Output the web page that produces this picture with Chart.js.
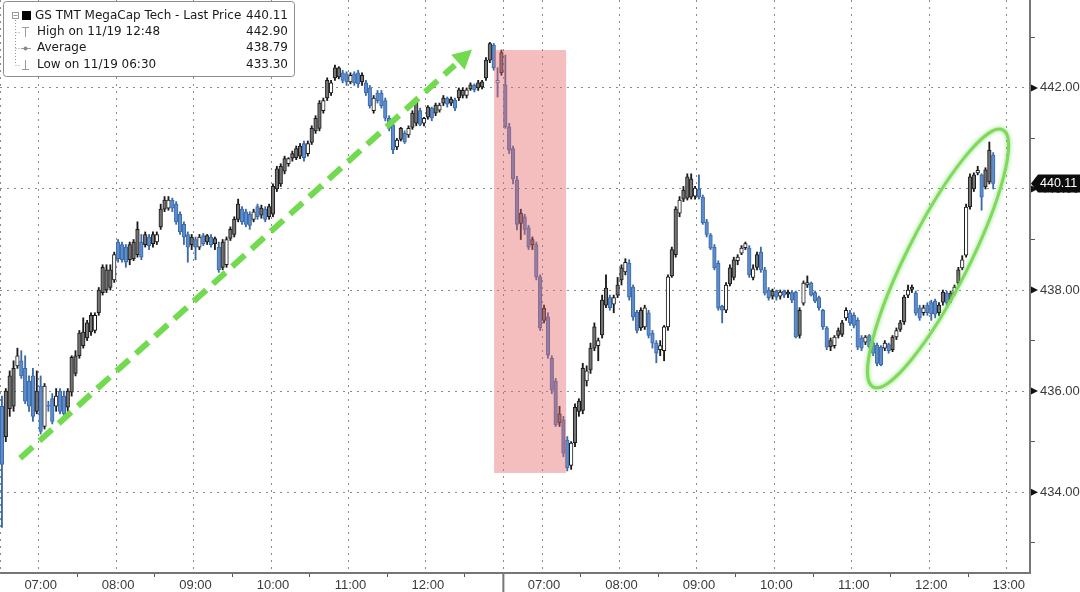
<!DOCTYPE html>
<html>
<head>
<meta charset="utf-8">
<title>GS TMT MegaCap Tech</title>
<script src="https://cdn.jsdelivr.net/npm/chart.js@4.4.1/dist/chart.umd.min.js"></script>
<style>
  html, body { margin: 0; padding: 0; background: #fff; }
  #wrap { position: relative; width: 1080px; height: 592px; }
</style>
</head>
<body>
<div id="wrap"><canvas id="chart"></canvas></div>
<script>
// ---- data: two sessions of 3-minute bars ----
const sessionDates = ["11/19", "11/20"];
const sessionSlots = [130, 136];          // 06:30 -> 12:57 and 06:30 -> 13:15
const barMinutes = 3;
const hourLabels = ["07:00", "08:00", "09:00", "10:00", "11:00", "12:00", "13:00"];
const labelledPrices = [434, 436, 438, 440, 442];

const openPx = [
  435.70, 436.00, 436.30, 436.45, 436.50, 436.60, 436.45, 436.20, 436.30, 436.00,
  436.10, 435.30, 435.72, 435.85, 435.70, 436.00, 435.90, 436.00, 436.67, 436.70,
  437.15, 437.17, 437.35, 437.50, 437.20, 438.00, 438.45, 438.40, 438.40, 438.20,
  438.95, 438.90, 438.85, 438.90, 438.95, 439.20, 438.95, 439.10, 439.05, 439.10,
  438.95, 439.60, 439.78, 439.62, 439.78, 439.70, 439.50, 439.30, 439.10, 439.05,
  439.00, 438.85, 439.08, 439.08, 439.05, 439.02, 438.85, 438.95, 438.50, 439.20,
  439.40, 439.70, 439.60, 439.55, 439.50, 439.40, 439.65, 439.62, 439.60, 439.65,
  440.05, 440.40, 440.45, 440.60, 440.50, 440.70, 440.80, 440.85, 440.90, 440.70,
  441.20, 441.40, 441.70, 441.55, 442.15, 441.90, 442.40, 442.40, 442.30, 442.28,
  442.12, 442.28, 442.30, 442.25, 442.10, 442.00, 441.55, 441.90, 441.90, 441.75,
  441.40, 441.27, 440.83, 441.20, 441.10, 441.07, 441.50, 441.72, 441.55, 441.30,
  441.62, 441.60, 441.66, 441.56, 441.80, 441.80, 441.78, 441.76, 441.96, 441.95,
  441.85, 442.06, 442.05, 442.10, 442.12, 442.55, 442.88, 442.85, 442.10, 442.70,
  442.06, 441.23, 440.80, 440.18, 439.52, 439.45, 439.23, 439.00, 438.90, 438.26,
  437.64, 437.47, 436.65, 436.20, 435.55, 435.43, 435.03, 434.53, 435.68, 435.80,
  436.45, 436.20, 436.85, 437.27, 436.90, 437.80, 438.04, 437.85, 437.72, 438.10,
  438.44, 438.36, 438.53, 438.06, 437.56, 437.60, 437.27, 437.55, 437.15, 436.95,
  436.82, 436.80, 437.27, 438.80, 439.60, 439.52, 439.98, 440.24, 440.20, 439.86,
  440.00, 439.84, 439.35, 439.09, 438.85, 438.53, 437.68, 437.60, 438.44, 438.60,
  438.58, 438.73, 438.84, 438.83, 438.25, 438.70, 438.75, 438.40, 438.00, 437.98,
  437.98, 437.88, 437.98, 437.96, 437.95, 437.96, 437.60, 437.74, 438.10, 438.14,
  437.95, 437.85, 437.60, 437.25, 437.00, 436.90, 437.20, 437.35, 437.45, 437.55,
  437.50, 437.40, 437.05, 436.97, 437.10, 436.95, 436.91, 436.87, 436.85, 436.92,
  437.07, 437.07, 437.35, 437.86, 437.90, 438.06, 437.94, 437.65, 437.55, 437.70,
  437.75, 437.78, 437.70, 437.96, 437.94, 437.94, 437.94, 438.40, 438.44, 438.69,
  440.24, 440.28, 440.32, 440.28, 440.38, 440.77, 440.67
];
const highPx = [
  435.90, 436.05, 436.40, 436.60, 436.85, 436.80, 436.70, 436.30, 436.45, 436.40,
  436.30, 436.15, 435.80, 435.95, 436.05, 436.05, 436.00, 436.05, 436.70, 436.80,
  437.20, 437.45, 437.40, 437.55, 437.55, 438.05, 438.50, 438.50, 438.50, 438.75,
  439.00, 438.95, 438.90, 438.95, 439.00, 439.35, 439.10, 439.15, 439.10, 439.15,
  439.15, 439.70, 439.85, 439.85, 439.82, 439.75, 439.55, 439.35, 439.15, 439.10,
  439.05, 439.10, 439.12, 439.10, 439.10, 439.05, 438.95, 439.00, 439.05, 439.25,
  439.45, 439.80, 439.65, 439.60, 439.55, 439.60, 439.70, 439.68, 439.65, 439.70,
  440.10, 440.45, 440.50, 440.65, 440.62, 440.75, 440.85, 440.90, 440.95, 440.95,
  441.25, 441.45, 441.75, 441.80, 442.20, 442.15, 442.45, 442.42, 442.35, 442.32,
  442.30, 442.32, 442.35, 442.30, 442.15, 442.05, 441.85, 441.95, 441.95, 441.80,
  441.45, 441.30, 441.00, 441.22, 441.15, 441.25, 441.55, 441.78, 441.60, 441.42,
  441.65, 441.62, 441.70, 441.70, 441.85, 441.82, 441.82, 441.80, 442.00, 442.00,
  442.00, 442.10, 442.08, 442.15, 442.15, 442.60, 442.90, 442.88, 442.40, 442.75,
  442.65, 441.30, 440.85, 440.25, 439.60, 439.50, 439.28, 439.05, 438.95, 438.30,
  437.70, 437.55, 436.70, 436.25, 435.70, 435.50, 435.10, 435.00, 435.75, 435.85,
  436.55, 436.50, 436.95, 437.35, 437.05, 437.90, 438.30, 437.90, 437.90, 438.25,
  438.50, 438.62, 438.60, 438.10, 437.60, 437.65, 437.70, 437.60, 437.20, 437.00,
  437.00, 437.30, 438.30, 438.85, 439.65, 439.85, 440.05, 440.30, 440.30, 440.05,
  440.28, 439.88, 439.40, 439.12, 438.90, 438.58, 437.70, 438.15, 438.50, 438.65,
  438.70, 438.88, 438.95, 438.88, 438.50, 438.75, 438.85, 438.45, 438.05, 438.02,
  438.00, 438.00, 438.00, 438.00, 437.98, 437.98, 437.65, 438.18, 438.28, 438.16,
  437.98, 437.88, 437.62, 437.28, 437.05, 437.10, 437.25, 437.40, 437.65, 437.60,
  437.55, 437.45, 437.10, 437.10, 437.12, 437.00, 436.95, 436.90, 437.00, 436.95,
  437.10, 437.25, 437.40, 437.90, 438.10, 438.10, 437.98, 437.70, 437.70, 437.75,
  437.80, 437.82, 437.75, 438.00, 437.98, 437.98, 438.10, 438.45, 438.68, 439.70,
  440.30, 440.32, 440.45, 440.30, 440.42, 440.93, 440.72
];
const lowPx = [
  433.30, 435.00, 435.50, 435.60, 436.45, 436.25, 435.75, 435.60, 435.40, 435.55,
  435.15, 435.25, 435.60, 435.35, 435.60, 435.55, 435.50, 435.60, 435.90, 436.30,
  436.65, 436.85, 437.00, 437.10, 437.15, 437.50, 437.90, 437.95, 438.00, 438.15,
  438.55, 438.55, 438.45, 438.50, 438.58, 438.65, 438.60, 438.85, 438.80, 438.85,
  438.90, 439.20, 439.55, 439.58, 439.55, 439.30, 439.10, 438.90, 438.55, 438.80,
  438.60, 438.80, 438.88, 438.90, 438.85, 438.80, 438.35, 438.40, 438.45, 438.98,
  439.05, 439.35, 439.30, 439.25, 439.20, 439.35, 439.40, 439.42, 439.35, 439.40,
  439.45, 439.95, 440.05, 440.30, 440.45, 440.55, 440.58, 440.60, 440.55, 440.65,
  440.88, 441.10, 441.15, 441.50, 441.75, 441.85, 442.15, 442.18, 442.10, 442.05,
  442.08, 442.05, 442.02, 442.05, 441.85, 441.60, 441.50, 441.70, 441.60, 441.35,
  441.15, 440.70, 440.78, 440.95, 440.90, 441.02, 441.18, 441.25, 441.25, 441.25,
  441.38, 441.35, 441.45, 441.52, 441.65, 441.62, 441.65, 441.55, 441.75, 441.80,
  441.80, 441.95, 441.92, 441.95, 441.98, 442.15, 442.50, 442.35, 441.82, 442.25,
  441.20, 440.70, 440.10, 439.19, 439.00, 439.10, 438.80, 438.80, 438.20, 437.20,
  437.35, 436.65, 435.95, 435.30, 435.30, 434.70, 434.42, 434.45, 434.90, 435.50,
  435.55, 436.10, 436.35, 436.80, 436.60, 437.05, 437.65, 437.60, 437.55, 437.85,
  438.10, 438.30, 437.80, 437.40, 437.15, 437.20, 437.22, 437.05, 436.85, 436.56,
  436.70, 436.60, 437.20, 438.25, 438.65, 439.45, 439.75, 439.78, 439.80, 439.80,
  439.80, 439.30, 439.05, 438.80, 438.40, 437.60, 437.35, 437.55, 438.08, 438.20,
  438.50, 438.70, 438.80, 438.25, 438.20, 438.40, 438.35, 437.90, 437.80, 437.82,
  437.80, 437.82, 437.85, 437.85, 437.75, 437.05, 437.05, 437.70, 438.05, 437.88,
  437.75, 437.60, 437.22, 436.82, 436.80, 436.85, 437.05, 437.08, 437.40, 437.30,
  437.25, 436.82, 436.80, 436.92, 436.85, 436.70, 436.50, 436.50, 436.80, 436.75,
  436.78, 437.02, 437.18, 437.32, 437.85, 437.95, 437.50, 437.40, 437.50, 437.50,
  437.40, 437.45, 437.50, 437.70, 437.70, 437.75, 437.90, 438.10, 438.40, 438.65,
  439.60, 439.95, 440.28, 439.58, 440.00, 440.10, 440.00
];
const closePx = [
  434.55, 435.10, 435.65, 435.70, 436.70, 436.30, 435.80, 435.70, 435.50, 435.60,
  435.20, 436.10, 435.70, 435.40, 435.90, 435.60, 435.55, 435.68, 435.98, 436.35,
  436.70, 436.90, 437.05, 437.17, 437.50, 437.55, 437.95, 438.00, 438.05, 438.70,
  438.62, 438.60, 438.55, 438.60, 438.62, 438.70, 438.65, 438.90, 438.88, 438.92,
  439.10, 439.25, 439.60, 439.78, 439.62, 439.35, 439.15, 439.05, 438.85, 438.90,
  438.85, 439.05, 438.92, 438.95, 438.90, 438.92, 438.40, 438.45, 439.00, 439.02,
  439.10, 439.40, 439.35, 439.30, 439.28, 439.55, 439.45, 439.48, 439.40, 439.45,
  439.50, 440.00, 440.10, 440.35, 440.60, 440.61, 440.62, 440.65, 440.62, 440.90,
  440.92, 441.15, 441.20, 441.75, 441.80, 442.10, 442.20, 442.22, 442.15, 442.12,
  442.25, 442.10, 442.08, 442.12, 441.90, 441.65, 441.80, 441.75, 441.65, 441.40,
  441.20, 440.78, 440.97, 440.98, 440.93, 441.20, 441.22, 441.30, 441.28, 441.40,
  441.42, 441.40, 441.50, 441.66, 441.70, 441.68, 441.70, 441.60, 441.80, 441.85,
  441.96, 441.98, 441.96, 442.00, 442.02, 442.20, 442.55, 442.40, 442.15, 442.30,
  441.23, 440.77, 440.20, 439.30, 439.32, 439.20, 438.85, 438.90, 438.26, 437.25,
  437.40, 436.71, 436.02, 435.33, 435.37, 434.77, 434.48, 434.97, 434.98, 435.60,
  435.62, 436.40, 436.42, 436.85, 437.00, 437.11, 437.70, 437.65, 437.85, 437.90,
  438.20, 438.55, 437.86, 437.47, 437.20, 437.25, 437.65, 437.10, 436.95, 436.75,
  436.90, 437.27, 438.26, 438.28, 438.70, 439.78, 439.80, 439.82, 439.84, 440.02,
  439.84, 439.33, 439.10, 438.83, 438.44, 437.64, 437.60, 438.10, 438.12, 438.25,
  438.65, 438.83, 438.92, 438.30, 438.42, 438.45, 438.40, 437.94, 437.85, 437.88,
  437.86, 437.96, 437.90, 437.92, 437.80, 437.07, 437.10, 438.14, 438.15, 437.90,
  437.78, 437.65, 437.27, 436.87, 436.88, 437.07, 437.10, 437.12, 437.60, 437.35,
  437.30, 436.87, 436.85, 437.07, 436.88, 436.75, 436.55, 436.52, 436.95, 436.80,
  436.82, 437.20, 437.22, 437.37, 438.00, 438.01, 437.54, 437.45, 437.65, 437.55,
  437.53, 437.52, 437.55, 437.76, 437.74, 437.80, 438.06, 438.14, 438.60, 439.64,
  439.65, 440.00, 440.37, 439.84, 440.04, 440.14, 440.11
];

const legendLabels = ["GS TMT MegaCap Tech - Last Price", "High on 11/19 12:48", "Average", "Low on 11/19 06:30"];
const legendValues = ["440.11", "442.90", "438.79", "433.30"];

// ---- look ----
const FONT = '"DejaVu Sans", Verdana, sans-serif';
const AXIS_FONT = '"Liberation Sans", Arial, sans-serif';
const INK = "#1a1a1a";
const GRID = "#8a8a8a";
const AXIS = "#767676";
const GREY_FILL = "#747474";
const BLUE_FILL = "#5d8dcd";
const BLUE_LINE = "#3c6aa8";
const GREEN = "#72da4e";

// category labels, one per 3-minute slot
const slotLabels = [];
sessionDates.forEach((d, s) => {
  for (let i = 0; i < sessionSlots[s]; i++) {
    const m = 6 * 60 + 30 + i * barMinutes;
    const hh = String(Math.floor(m / 60)).padStart(2, "0");
    const mm = String(m % 60).padStart(2, "0");
    slotLabels.push(d + " " + hh + ":" + mm);
  }
});
const timeOf = (i) => (slotLabels[i] ? slotLabels[i].slice(-5) : "");
const isDayStart = (i) => i === 0 || i === sessionSlots[0];
const isEven = (v) => Math.abs(v / 2 - Math.round(v / 2)) < 1e-6;

// bloomberg style: hollow when close >= open, blue when close below previous close
const isHollow = (i) => closePx[i] >= openPx[i];
const isBlue = (i) => closePx[i] < (i > 0 ? closePx[i - 1] : openPx[i]);

const bodies = openPx.map((o, i) => [o, closePx[i]]);
const wicks = lowPx.map((l, i) => [l, highPx[i]]);

// annotation anchors, in slot / price units
const redBand = [127.1, 145.7, 434.38, 442.75];
const trendArrow = [4.7, 434.67, 121.4, 442.76];
const breakoutRing = [225.0, 436.08, 258.5, 441.17];

const overlay = {
  id: "overlay",
  afterDatasetsDraw(chart) {
    const { ctx, scales: { x, y } } = chart;
    ctx.save();

    // pink sell-off band, over the candles
    const bx0 = x.getPixelForValue(redBand[0]);
    const bx1 = x.getPixelForValue(redBand[1]);
    const by0 = y.getPixelForValue(redBand[3]);
    const by1 = y.getPixelForValue(redBand[2]);
    ctx.fillStyle = "rgba(232, 100, 100, 0.42)";
    ctx.fillRect(bx0, by0, bx1 - bx0, by1 - by0);

    // dashed green trend arrow
    const ax0 = x.getPixelForValue(trendArrow[0]), ay0 = y.getPixelForValue(trendArrow[1]);
    const ax1 = x.getPixelForValue(trendArrow[2]), ay1 = y.getPixelForValue(trendArrow[3]);
    const ang = Math.atan2(ay1 - ay0, ax1 - ax0);
    const head = 19, half = 10;
    const hx = ax1 - head * Math.cos(ang), hy = ay1 - head * Math.sin(ang);
    ctx.strokeStyle = GREEN;
    ctx.lineWidth = 6;
    ctx.setLineDash([17, 9]);
    ctx.beginPath();
    ctx.moveTo(ax0, ay0);
    ctx.lineTo(hx - 4 * Math.cos(ang), hy - 4 * Math.sin(ang));
    ctx.stroke();
    ctx.setLineDash([]);
    ctx.fillStyle = GREEN;
    ctx.beginPath();
    ctx.moveTo(ax1, ay1);
    ctx.lineTo(hx + half * Math.sin(ang), hy - half * Math.cos(ang));
    ctx.lineTo(hx - half * Math.sin(ang), hy + half * Math.cos(ang));
    ctx.closePath();
    ctx.fill();

    // green ring round the late rally
    const ex0 = x.getPixelForValue(breakoutRing[0]), ey0 = y.getPixelForValue(breakoutRing[1]);
    const ex1 = x.getPixelForValue(breakoutRing[2]), ey1 = y.getPixelForValue(breakoutRing[3]);
    ctx.shadowColor = "rgba(110, 215, 80, 0.8)";
    ctx.shadowBlur = 4;
    ctx.strokeStyle = "#7fd95c";
    ctx.lineWidth = 3;
    ctx.beginPath();
    ctx.ellipse((ex0 + ex1) / 2, (ey0 + ey1) / 2, Math.hypot(ex1 - ex0, ey1 - ey0) / 2, 31,
      Math.atan2(ey1 - ey0, ex1 - ex0), 0, Math.PI * 2);
    ctx.stroke();
    ctx.restore();
  },
  afterDraw(chart) {
    const { ctx, chartArea, scales: { x, y } } = chart;
    ctx.save();

    // day separator below the time axis
    const sx = x.getPixelForValue(sessionSlots[0] - 0.5);
    ctx.strokeStyle = AXIS;
    ctx.lineWidth = 2;
    ctx.beginPath();
    ctx.moveTo(sx, chartArea.bottom);
    ctx.lineTo(sx, chart.height);
    ctx.stroke();

    // arrow markers on the labelled price ticks
    ctx.fillStyle = "#111";
    labelledPrices.forEach((p) => {
      const py = y.getPixelForValue(p);
      ctx.beginPath();
      ctx.moveTo(chartArea.right + 1, py - 3.5);
      ctx.lineTo(chartArea.right + 8, py);
      ctx.lineTo(chartArea.right + 1, py + 3.5);
      ctx.closePath();
      ctx.fill();
    });

    // last price tag
    const last = closePx[closePx.length - 1];
    const ty = y.getPixelForValue(last);
    ctx.fillStyle = "#0c0c0c";
    ctx.beginPath();
    ctx.moveTo(chartArea.right + 1, ty);
    ctx.lineTo(chartArea.right + 8, ty - 9);
    ctx.lineTo(chart.width, ty - 9);
    ctx.lineTo(chart.width, ty + 9);
    ctx.lineTo(chartArea.right + 8, ty + 9);
    ctx.closePath();
    ctx.fill();
    ctx.fillStyle = "#fff";
    ctx.font = "12.5px " + AXIS_FONT;
    ctx.textBaseline = "middle";
    ctx.textAlign = "left";
    ctx.fillText(last.toFixed(2), chartArea.right + 10, ty + 0.5);

    // legend box
    ctx.fillStyle = "#fff";
    ctx.strokeStyle = "#8c8c8c";
    ctx.lineWidth = 1;
    ctx.beginPath();
    ctx.roundRect(3.5, 1.5, 291, 75, 3);
    ctx.fill();
    ctx.stroke();

    const rows = [16, 32, 48, 65];
    ctx.strokeStyle = "#9a9a9a";
    ctx.setLineDash([1, 2]);
    ctx.beginPath();
    ctx.moveTo(15.5, 20);
    ctx.lineTo(15.5, rows[3]);
    rows.slice(1).forEach((ry) => { ctx.moveTo(15.5, ry + 0.5); ctx.lineTo(21, ry + 0.5); });
    ctx.stroke();
    ctx.setLineDash([]);
    ctx.strokeRect(12.5, 12.5, 6, 6);
    ctx.beginPath();
    ctx.moveTo(13.5, 15.5); ctx.lineTo(17.5, 15.5);
    // high / average / low glyphs
    ctx.moveTo(25.5, rows[1] - 5); ctx.lineTo(25.5, rows[1] + 5);
    ctx.moveTo(22, rows[1] - 4.5); ctx.lineTo(29, rows[1] - 4.5);
    ctx.moveTo(21, rows[2] + 0.5); ctx.lineTo(31, rows[2] + 0.5);
    ctx.moveTo(25.5, rows[3] - 5); ctx.lineTo(25.5, rows[3] + 5);
    ctx.moveTo(22, rows[3] + 4.5); ctx.lineTo(29, rows[3] + 4.5);
    ctx.stroke();
    ctx.fillStyle = "#8a8a8a";
    ctx.beginPath();
    ctx.arc(25.5, rows[2] + 0.5, 2, 0, Math.PI * 2);
    ctx.fill();
    ctx.fillStyle = "#000";
    ctx.fillRect(22, 11, 9, 9);

    ctx.fillStyle = INK;
    ctx.font = "12px " + FONT;
    legendLabels.forEach((t, i) => {
      ctx.textAlign = "left";
      ctx.fillText(t, i === 0 ? 35 : 37, rows[i]);
      ctx.textAlign = "right";
      ctx.fillText(legendValues[i], 288, rows[i]);
    });
    ctx.restore();
  }
};

new Chart(document.getElementById("chart"), {
  type: "bar",
  data: {
    labels: slotLabels,
    datasets: [
      {
        data: bodies,
        order: 0,
        grouped: false,
        barThickness: 3.6,
        borderWidth: 1,
        borderSkipped: false,
        backgroundColor: (c) => (isHollow(c.dataIndex) ? "#ffffff" : isBlue(c.dataIndex) ? BLUE_FILL : GREY_FILL),
        borderColor: (c) => (isBlue(c.dataIndex) ? BLUE_LINE : INK)
      },
      {
        data: wicks,
        order: 1,
        grouped: false,
        barThickness: 1.2,
        borderWidth: 0,
        backgroundColor: (c) => (isBlue(c.dataIndex) ? BLUE_LINE : INK)
      }
    ]
  },
  options: {
    responsive: true,
    maintainAspectRatio: false,
    animation: false,
    layout: { padding: 0 },
    plugins: { legend: { display: false }, tooltip: { enabled: false } },
    scales: {
      x: {
        type: "category",
        offset: true,
        grid: {
          offset: true,
          lineWidth: 1,
          color: (c) => (c.index !== undefined && (timeOf(c.index).endsWith(":00") || isDayStart(c.index)) ? GRID : "transparent"),
          tickColor: (c) => (c.index !== undefined && timeOf(c.index).endsWith(":30") && !isDayStart(c.index) ? "#555" : "transparent"),
          tickLength: 4
        },
        border: { display: true, color: AXIS, width: 2, dash: [2, 5] },
        ticks: {
          autoSkip: false,
          maxRotation: 0,
          minRotation: 0,
          padding: 1,
          color: "#3a3a3a",
          font: { family: AXIS_FONT, size: 13 },
          callback: (v, i) => (hourLabels.includes(timeOf(i)) ? timeOf(i) : "")
        },
        afterFit: (s) => { s.height = 19; s.paddingLeft = 0; s.paddingRight = 0; }
      },
      y: {
        position: "right",
        min: 432.4,
        max: 443.74,
        grid: {
          color: (c) => (c.tick && labelledPrices.includes(Math.round(c.tick.value)) && isEven(c.tick.value) ? GRID : "transparent"),
          tickColor: (c) => (c.tick && !isEven(c.tick.value) ? "#555" : "transparent"),
          tickLength: 5
        },
        border: { display: true, color: AXIS, width: 2, dash: [2, 5] },
        ticks: {
          stepSize: 1,
          includeBounds: false,
          padding: 5,
          color: "#3a3a3a",
          font: { family: AXIS_FONT, size: 13 },
          callback: (v) => (isEven(v) ? Number(v).toFixed(2) : "")
        },
        afterFit: (s) => { s.width = 50; s.paddingTop = 0; s.paddingBottom = 0; }
      }
    }
  },
  plugins: [overlay]
});
</script>
</body>
</html>
